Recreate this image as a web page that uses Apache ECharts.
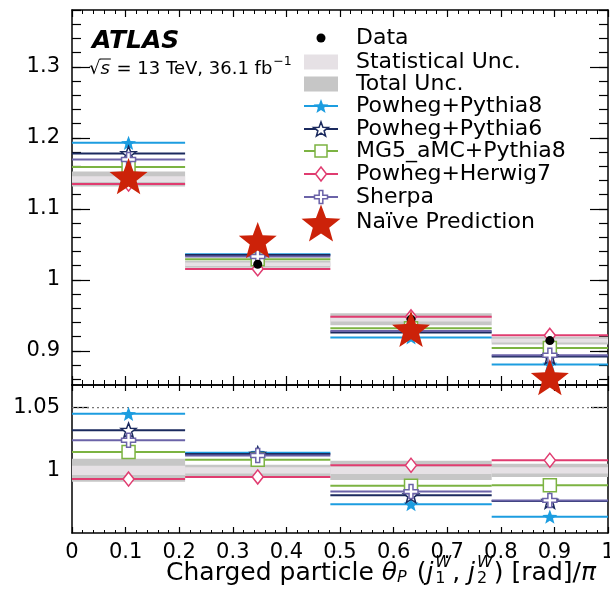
<!DOCTYPE html>
<html>
<head>
<meta charset="utf-8">
<script src="https://cdn.jsdelivr.net/npm/echarts@6/dist/echarts.min.js"></script>
<style>
  html, body { margin: 0; padding: 0; background: #fff; }
  #chart { width: 610px; height: 592px; }
</style>
</head>
<body>
<div id="chart"></div>
<script>
// Bin edges of the charged-particle pull angle distribution
const binLow  = [0, 0.211, 0.482, 0.783];
const binHigh = [0.211, 0.482, 0.783, 1.0];

// Unfolded data (normalised) and its uncertainties
const dataVals = [1.142, 1.022, 0.9445, 0.9145];
const statErr  = [0.004, 0.0025, 0.003, 0.0025];
const totErr   = [0.0105, 0.005, 0.0085, 0.0055];
const ratioStatErr = [0.0037, 0.0025, 0.003, 0.0025];
const ratioTotErr  = [0.0092, 0.0045, 0.0077, 0.0053];

// MC predictions
const pythia8 = [1.193, 1.036, 0.919, 0.881];
const pythia6 = [1.178, 1.035, 0.926, 0.892];
const mg5     = [1.159, 1.029, 0.932, 0.904];
const herwig7 = [1.135, 1.0155, 0.948, 0.922];
const sherpa  = [1.1695, 1.033, 0.928, 0.894];
const naive   = [1.146, 1.056, 0.931, 0.863];

// Prediction / data
const pythia8Ratio = [1.045, 1.014, 0.973, 0.963];
const pythia6Ratio = [1.032, 1.013, 0.980, 0.9755];
const mg5Ratio     = [1.0145, 1.0085, 0.9876, 0.988];
const herwig7Ratio = [0.993, 0.9947, 1.004, 1.008];
const sherpaRatio  = [1.024, 1.0118, 0.983, 0.976];

// Tick labels
const topLabels   = [0.9, 1.0, 1.1, 1.2, 1.3];
const ratioLabels = [1.0, 1.05];
const topMinor = [];
for (let k = 43; k <= 69; k++) topMinor.push(+(k * 0.02).toFixed(2));

const legendNames = ['Data', 'Statistical Unc.', 'Total Unc.', 'Powheg+Pythia8',
  'Powheg+Pythia6', 'MG5_aMC+Pythia8', 'Powheg+Herwig7', 'Sherpa', 'Naïve Prediction'];

const C = {
  p8: '#1c9de0', p6: '#1b2a5e', mg5: '#7cb342', h7: '#e03c70', sh: '#6b63a8',
  naive: '#cc2209', stat: '#e6e1e5', tot: '#c6c6c6'
};
const FONT = '"DejaVu Sans", "Liberation Sans", sans-serif';

// ---------- symbol shapes ----------
function starPts(cx, cy, R, ratio) {
  const pts = [];
  for (let i = 0; i < 10; i++) {
    const a = -Math.PI / 2 + i * Math.PI / 5;
    const r = i % 2 === 0 ? R : R * ratio;
    pts.push([cx + r * Math.cos(a), cy + r * Math.sin(a)]);
  }
  return pts;
}
function toPath(pts) {
  return 'path://M' + pts.map(p => p[0].toFixed(3) + ',' + p[1].toFixed(3)).join(' L') + ' Z';
}
const plusPts = (cx, cy, s) => {
  const a = s * 0.28, b = s;
  return [[cx - a, cy - b], [cx + a, cy - b], [cx + a, cy - a], [cx + b, cy - a], [cx + b, cy + a],
          [cx + a, cy + a], [cx + a, cy + b], [cx - a, cy + b], [cx - a, cy + a], [cx - b, cy + a],
          [cx - b, cy - a], [cx - a, cy - a]];
};
const STAR = toPath(starPts(0, 0, 10, 0.42));
const PLUS = toPath(plusPts(0, 0, 10));

// ---------- axes ----------
function xAx(gi, pos, major, minor, labels) {
  return {
    type: 'value', gridIndex: gi, position: pos, min: 0, max: 1, interval: 0.1,
    axisLine: { show: true, onZero: false, lineStyle: { color: '#000', width: 1.5 } },
    axisTick: { show: true, inside: true, length: major, lineStyle: { color: '#000', width: 1.2 } },
    minorTick: { show: true, splitNumber: 5, length: minor, lineStyle: { color: '#000', width: 1 } },
    axisLabel: labels ? { show: true, color: '#000', fontFamily: FONT, fontSize: 21, margin: 9,
      formatter: v => String(+v.toFixed(1)) } : { show: false },
    splitLine: { show: false }, minorSplitLine: { show: false }
  };
}
function yAx(gi, pos, min, max, ticks, len, line, labels) {
  return {
    type: 'value', gridIndex: gi, position: pos, min, max,
    axisLine: { show: line, onZero: false, lineStyle: { color: '#000', width: 1.5 } },
    axisTick: { show: true, inside: true, length: len, customValues: ticks,
      lineStyle: { color: '#000', width: 1.2 } },
    axisLabel: labels ? { show: true, customValues: labels, color: '#000', fontFamily: FONT,
      fontSize: 21, margin: 12, formatter: v => String(+v.toFixed(2)) } : { show: false },
    splitLine: { show: false }
  };
}

// ---------- series builders ----------
function steps(name, vals, color, xi, yi, z) {
  return {
    type: 'custom', name, xAxisIndex: xi, yAxisIndex: yi, z, silent: true,
    data: vals.map((v, i) => [binLow[i], binHigh[i], v]),
    encode: { x: [0, 1], y: 2 },
    renderItem: (params, api) => {
      const a = api.coord([api.value(0), api.value(2)]);
      const b = api.coord([api.value(1), api.value(2)]);
      return { type: 'line', shape: { x1: a[0], y1: a[1], x2: b[0], y2: b[1] },
               style: { stroke: color, lineWidth: 2 } };
    }
  };
}
function band(name, centers, errs, color, xi, yi, z) {
  return {
    type: 'custom', name, xAxisIndex: xi, yAxisIndex: yi, z, silent: true,
    data: centers.map((c, i) => [binLow[i], binHigh[i], c - errs[i], c + errs[i]]),
    encode: { x: [0, 1], y: [2, 3] },
    renderItem: (params, api) => {
      const a = api.coord([api.value(0), api.value(3)]);
      const b = api.coord([api.value(1), api.value(2)]);
      return { type: 'rect', shape: { x: a[0], y: a[1], width: b[0] - a[0], height: b[1] - a[1] },
               style: { fill: color } };
    }
  };
}
const centers = binLow.map((l, i) => (l + binHigh[i]) / 2);
function marks(name, vals, symbol, size, fill, border, xi, yi, z) {
  return {
    type: 'scatter', name, xAxisIndex: xi, yAxisIndex: yi, z, silent: true,
    symbol, symbolSize: size, symbolKeepAspect: true,
    itemStyle: { color: fill, borderColor: border, borderWidth: border ? 1.5 : 0, opacity: 1 },
    data: vals.map((v, i) => [centers[i], v])
  };
}

const models = [
  { top: pythia8, ratio: pythia8Ratio, color: C.p8, sym: STAR, size: 15, open: false },
  { top: pythia6, ratio: pythia6Ratio, color: C.p6, sym: STAR, size: 15, open: true },
  { top: mg5, ratio: mg5Ratio, color: C.mg5, sym: 'rect', size: 13, open: true },
  { top: herwig7, ratio: herwig7Ratio, color: C.h7, sym: 'diamond', size: [11, 14], open: true },
  { top: sherpa, ratio: sherpaRatio, color: C.sh, sym: PLUS, size: 14, open: true }
];
const modelNames = legendNames.slice(3, 8);
const ones = dataVals.map(() => 1);

const series = [];
// upper panel
series.push(band('Total Unc.', dataVals, totErr, C.tot, 0, 0, 1));
series.push(band('Statistical Unc.', dataVals, statErr, C.stat, 0, 0, 2));
models.forEach((m, k) => series.push(steps(modelNames[k], m.top, m.color, 0, 0, 3)));
models.forEach((m, k) => series.push(marks(modelNames[k], m.top, m.sym, m.size,
  m.open ? '#fff' : m.color, m.open ? m.color : null, 0, 0, 4)));
series.push(marks('Data', dataVals, 'circle', 9, '#000', null, 0, 0, 5));
series.push(marks('Naïve Prediction', naive, STAR, 38, C.naive, null, 0, 0, 6));
// ratio panel
series.push({ type: 'line', xAxisIndex: 2, yAxisIndex: 4, z: 1, silent: true, symbol: 'none',
  data: [[0, 1.05], [1, 1.05]], lineStyle: { color: '#777', width: 1.3, type: [2, 3] } });
series.push(band('Total Unc.', ones, ratioTotErr, C.tot, 2, 4, 1));
series.push(band('Statistical Unc.', ones, ratioStatErr, C.stat, 2, 4, 2));
models.forEach((m, k) => series.push(steps(modelNames[k], m.ratio, m.color, 2, 4, 3)));
models.forEach((m, k) => series.push(marks(modelNames[k], m.ratio, m.sym, m.size,
  m.open ? '#fff' : m.color, m.open ? m.color : null, 2, 4, 4)));

// ---------- text & legend graphics ----------
const ctx = document.createElement('canvas').getContext('2d');
function tw(t, font) { ctx.font = font; return ctx.measureText(t).width; }
function txt(t, x, y, font, align) {
  return { type: 'text', x, y, silent: true, z: 100,
    style: { text: t, font, fill: '#000', align: align || 'left', verticalAlign: 'middle' } };
}

const graphics = [];
graphics.push(txt('ATLAS', 92, 41, 'italic bold 25px ' + FONT));
// sqrt(s) line
(function () {
  const f = '18px ' + FONT, fi = 'italic 18px ' + FONT, fs = '12.5px ' + FONT;
  let x = 89; const y = 69;
  graphics.push(txt('√', x, y, f)); const wr = tw('√', f);
  const xs = x + wr; graphics.push(txt('s', xs, y, fi)); const wsx = tw('s', fi);
  graphics.push({ type: 'line', silent: true, z: 100,
    shape: { x1: xs - 1, y1: y - 10, x2: xs + wsx + 1, y2: y - 10 }, style: { stroke: '#000', lineWidth: 1 } });
  x = xs + wsx + 1;
  const rest = ' = 13 TeV, 36.1 fb';
  graphics.push(txt(rest, x, y, f)); x += tw(rest, f);
  graphics.push(txt('−1', x + 1, y - 7, fs));
})();

// legend
const LX0 = 304, LX1 = 338, LC = 321, TX = 356;
const rowY = [38, 62, 84, 106, 129, 151, 174, 197, 222];
const LF = '22px ' + FONT;
legendNames.forEach((n, i) => graphics.push(txt(n, TX, rowY[i], LF)));
graphics.push({ type: 'circle', silent: true, z: 100, shape: { cx: LC, cy: rowY[0], r: 4.5 }, style: { fill: '#000' } });
graphics.push({ type: 'rect', silent: true, z: 100, shape: { x: LX0, y: rowY[1] - 7.5, width: LX1 - LX0, height: 15 }, style: { fill: C.stat } });
graphics.push({ type: 'rect', silent: true, z: 100, shape: { x: LX0, y: rowY[2] - 7.5, width: LX1 - LX0, height: 15 }, style: { fill: C.tot } });
models.forEach((m, k) => {
  const y = rowY[3 + k];
  graphics.push({ type: 'line', silent: true, z: 100, shape: { x1: LX0, y1: y, x2: LX1, y2: y }, style: { stroke: m.color, lineWidth: 2 } });
  const st = { fill: m.open ? '#fff' : m.color, stroke: m.open ? m.color : null, lineWidth: 1.5 };
  let shape;
  if (m.sym === STAR) shape = { type: 'polygon', shape: { points: starPts(LC, y + 0.8, 7.8, 0.42) } };
  else if (m.sym === 'rect') shape = { type: 'rect', shape: { x: LC - 6, y: y - 6, width: 12, height: 12 } };
  else if (m.sym === 'diamond') shape = { type: 'polygon', shape: { points: [[LC, y - 7], [LC + 5.5, y], [LC, y + 7], [LC - 5.5, y]] } };
  else shape = { type: 'polygon', shape: { points: plusPts(LC, y, 6.5) } };
  graphics.push(Object.assign(shape, { silent: true, z: 101, style: st }));
});
graphics.push({ type: 'polygon', silent: true, z: 101, shape: { points: starPts(LC, rowY[8] + 3, 20.5, 0.42) }, style: { fill: C.naive } });

// x-axis title with sub/superscripts
(function () {
  const F = '25px ' + FONT, FI = 'italic 25px ' + FONT, S = '16px ' + FONT, SI = 'italic 16px ' + FONT;
  const parts = [
    { t: 'Charged particle ', f: F },
    { t: 'θ', f: FI },
    { t: 'P', f: SI, dy: 5, after: 2 },
    { t: ' (', f: F },
    { t: 'j', f: FI, after: 2 },
    { sup: 'W', sub: '1', after: 1 },
    { t: ', ', f: F },
    { t: 'j', f: FI, after: 2 },
    { sup: 'W', sub: '2', after: 1 },
    { t: ') [rad]/', f: F },
    { t: 'π', f: FI }
  ];
  let total = 0;
  parts.forEach(p => {
    p.w = p.sup ? Math.max(tw(p.sup, SI), tw(p.sub, S)) : tw(p.t, p.f);
    total += p.w + (p.after || 0);
  });
  let x = 596 - total; const y = 573;
  parts.forEach(p => {
    if (p.sup) {
      graphics.push(txt(p.sup, x, y - 10, SI));
      graphics.push(txt(p.sub, x, y + 6, S));
    } else {
      graphics.push(txt(p.t, x, y + (p.dy || 0), p.f));
    }
    x += p.w + (p.after || 0);
  });
})();

const chart = echarts.init(document.getElementById('chart'), null, { renderer: 'canvas' });
chart.setOption({
  animation: false,
  backgroundColor: '#fff',
  grid: [
    { left: 72, top: 10, width: 536, height: 375, outerBoundsMode: 'none', containLabel: false },
    { left: 72, top: 385, width: 536, height: 148, outerBoundsMode: 'none', containLabel: false }
  ],
  xAxis: [
    xAx(0, 'bottom', 9, 5, false),
    xAx(0, 'top', 7, 4, false),
    xAx(1, 'bottom', 6, 3, true),
    xAx(1, 'top', 6, 3, false)
  ],
  yAxis: [
    yAx(0, 'left', 0.852, 1.38, topLabels, 18, true, topLabels),
    yAx(0, 'left', 0.852, 1.38, topMinor, 9, false, null),
    yAx(0, 'right', 0.852, 1.38, topLabels, 18, true, null),
    yAx(0, 'right', 0.852, 1.38, topMinor, 9, false, null),
    yAx(1, 'left', 0.95, 1.068, ratioLabels, 17, true, ratioLabels),
    yAx(1, 'right', 0.95, 1.068, ratioLabels, 17, true, null)
  ],
  series,
  graphic: graphics
});
</script>
</body>
</html>
